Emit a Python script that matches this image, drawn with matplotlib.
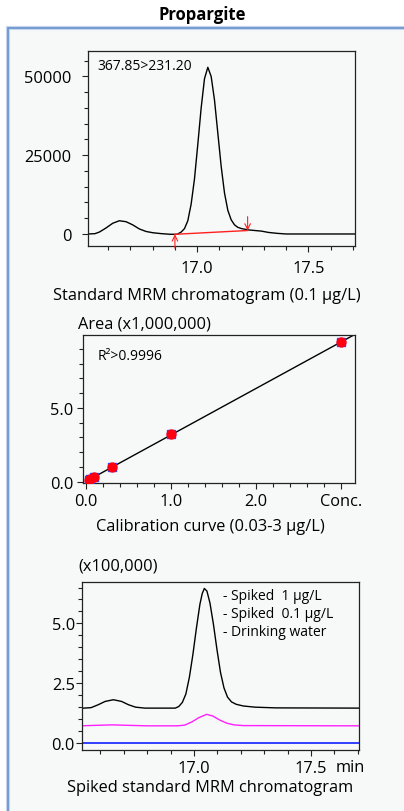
"""
plot.py — Propargite panel: standard MRM chromatogram, calibration curve and
spiked drinking-water chromatograms. Saves out.png (404x812).
"""
import matplotlib
matplotlib.use("Agg")
import matplotlib.pyplot as plt
import numpy as np
from matplotlib.patches import Rectangle
from matplotlib.ticker import MultipleLocator

plt.rcParams["font.family"] = ["Open Sans", "DejaVu Sans"]

# --- panel 1: standard MRM chromatogram (0.1 ug/L), transition 367.85>231.20
std_time = [16.51, 16.54, 16.56, 16.59, 16.62, 16.65, 16.68, 16.71, 16.74, 16.77,
            16.80, 16.84, 16.88, 16.91, 16.928, 16.943, 16.958, 16.973, 16.988,
            17.003, 17.018, 17.033, 17.048, 17.063, 17.078, 17.093, 17.108,
            17.123, 17.138, 17.153, 17.168, 17.183, 17.20, 17.23, 17.26, 17.29,
            17.32, 17.36, 17.40, 17.71]
std_int = [0, 100, 600, 1900, 3400, 4200, 3900, 2900, 1600, 800,
           400, 100, -100, -100, 600, 1700, 4200, 9500, 17500,
           28500, 40000, 49300, 52900, 50000, 42500, 32000, 21500,
           13000, 7500, 4500, 2900, 2100, 1700, 1300, 1100, 900,
           500, 200, 0, 0]
base_time = [16.90, 17.227]      # integration baseline start / end
base_int = [-100, 1100]

# --- panel 2: calibration curve
cal_conc = [0.03, 0.05, 0.1, 0.3, 1.0, 3.0]
cal_area = [0.08, 0.16, 0.33, 0.98, 3.23, 9.47]   # x1,000,000

# --- panel 3: spiked chromatograms (x100,000)
sp_time_1 = [16.513, 16.56, 16.59, 16.62, 16.655, 16.69, 16.72, 16.75, 16.79,
             16.92, 16.935, 16.95, 16.965, 16.98, 16.995, 17.01, 17.025, 17.035,
             17.044, 17.055, 17.068, 17.083, 17.098, 17.113, 17.128, 17.143,
             17.16, 17.18, 17.21, 17.26, 17.35, 17.705]
sp_int_1 = [1.45, 1.48, 1.60, 1.74, 1.81, 1.74, 1.60, 1.50, 1.46,
            1.46, 1.53, 1.70, 2.05, 2.75, 3.70, 4.80, 5.80, 6.25,
            6.46, 6.35, 5.85, 4.95, 3.90, 2.95, 2.30, 1.92,
            1.72, 1.62, 1.55, 1.50, 1.47, 1.46]
sp_time_01 = [16.513, 16.58, 16.65, 16.72, 16.80, 16.93, 16.96, 16.99, 17.02,
              17.054, 17.08, 17.11, 17.14, 17.17, 17.21, 17.705]
sp_int_01 = [0.72, 0.74, 0.76, 0.74, 0.72, 0.72, 0.75, 0.88, 1.06,
             1.20, 1.13, 0.96, 0.83, 0.76, 0.73, 0.72]
water_time = [16.513, 17.705]
water_int = [0.0, 0.0]
legend_labels = ["- Spiked  1 µg/L", "- Spiked  0.1 µg/L", "- Drinking water"]

BG = "#f7f9f9"
SPINE = "#222222"
FS = 11.8


def style(ax, xpad=3, ypad=3):
    ax.set_facecolor(BG)
    for s in ax.spines.values():
        s.set_color(SPINE)
        s.set_linewidth(0.9)
    ax.tick_params(which="major", direction="out", length=4.3, width=0.8,
                   color=SPINE, labelsize=FS)
    ax.tick_params(which="minor", direction="out", length=2.8, width=0.8, color=SPINE)
    ax.tick_params(axis="x", which="major", pad=xpad)
    ax.tick_params(axis="y", which="major", pad=ypad)
    ax.tick_params(top=False, right=False)


fig = plt.figure(figsize=(4.04, 8.12), dpi=100)
fig.patch.set_facecolor("white")

# framed panel with light background (behind the axes)
fig.patches.append(Rectangle((8 / 404, -0.01), 1.0, 1.01 - 29 / 812, transform=fig.transFigure,
                             facecolor=BG, edgecolor="#c9d6ea", linewidth=3.0, zorder=-2))
fig.patches.append(Rectangle((8 / 404, -0.01), 1.0, 1.01 - 29 / 812, transform=fig.transFigure,
                             facecolor="none", edgecolor="#5d8ccc", linewidth=1.1, zorder=-1))

fig.text(202 / 404, 1 - 15 / 812, "Propargite", ha="center", va="center",
         fontsize=12, fontweight="bold")

# panel 1
ax1 = fig.add_axes([88 / 404, 1 - 247 / 812, 267 / 404, 195 / 812])
style(ax1, xpad=6, ypad=7.5)
ax1.plot(std_time, std_int, color="black", lw=1.0)
ax1.plot(base_time, base_int, color="#ff2020", lw=1.0)
ax1.annotate("", xy=(base_time[0], base_int[0]), xytext=(0, -10), textcoords="offset points",
             arrowprops=dict(arrowstyle="->", color="#ff2020", lw=0.8, shrinkA=0, shrinkB=0))
ax1.annotate("", xy=(base_time[1], base_int[1]), xytext=(0, 10), textcoords="offset points",
             arrowprops=dict(arrowstyle="->", color="#ff2020", lw=0.8, shrinkA=0, shrinkB=0))
ax1.set_xlim(16.509, 17.71)
ax1.set_ylim(-3815, 58080)
ax1.set_xticks([17.0, 17.5])
ax1.set_xticklabels(["17.0", "17.5"])
ax1.xaxis.set_minor_locator(MultipleLocator(0.1))
ax1.set_yticks([0, 25000, 50000])
ax1.yaxis.set_minor_locator(MultipleLocator(5000))
ax1.text(0.035, 0.925, "367.85>231.20", transform=ax1.transAxes, fontsize=10,
         ha="left", va="center")
fig.text(207 / 404, 1 - 296 / 812, "Standard MRM chromatogram (0.1 µg/L)",
         ha="center", va="center", fontsize=FS)

# panel 2
ax2 = fig.add_axes([83 / 404, 1 - 484 / 812, 272 / 404, 148 / 812])
style(ax2, xpad=3, ypad=2.5)
slope, icpt = np.polyfit(cal_conc, cal_area, 1)
fit_x = np.array([0.0, 3.2])
ax2.plot(fit_x, slope * fit_x + icpt, color="black", lw=1.0, zorder=2)
ax2.plot(cal_conc, cal_area, "s", color="#3040ff", markersize=6.2, zorder=3, ls="none")
ax2.plot(cal_conc, cal_area, "o", color="#ff0010", markersize=6.4, zorder=4, ls="none")
ax2.set_xlim(-0.035, 3.16)
ax2.set_ylim(-0.09, 9.95)
ax2.set_xticks([0.0, 1.0, 2.0, 3.0])
ax2.set_xticklabels(["0.0", "1.0", "2.0", "Conc."])
ax2.xaxis.set_minor_locator(MultipleLocator(0.2))
ax2.set_yticks([0.0, 5.0])
ax2.set_yticklabels(["0.0", "5.0"])
ax2.yaxis.set_minor_locator(MultipleLocator(1.0))
ax2.text(0.055, 0.86, "R²>0.9996", transform=ax2.transAxes, fontsize=10,
         ha="left", va="center")
fig.text(78 / 404, 1 - 325 / 812, "Area (x1,000,000)", ha="left", va="center", fontsize=FS)
fig.text(210 / 404, 1 - 527 / 812, "Calibration curve (0.03-3 µg/L)",
         ha="center", va="center", fontsize=FS)

# panel 3
ax3 = fig.add_axes([82 / 404, 1 - 751 / 812, 277 / 404, 168 / 812])
style(ax3, xpad=3, ypad=0.8)
ax3.plot(water_time, water_int, color="#1020ff", lw=1.2)
ax3.plot(sp_time_01, sp_int_01, color="#ff20ff", lw=1.0)
ax3.plot(sp_time_1, sp_int_1, color="black", lw=1.0)
ax3.set_xlim(16.521, 17.705)
ax3.set_ylim(-0.29, 6.73)
ax3.set_xticks([17.0, 17.5])
ax3.set_xticklabels(["17.0", "17.5"])
ax3.xaxis.set_minor_locator(MultipleLocator(0.1))
ax3.set_yticks([0.0, 2.5, 5.0])
ax3.set_yticklabels(["0.0", "2.5", "5.0"])
ax3.yaxis.set_minor_locator(MultipleLocator(0.5))
for i, lab in enumerate(legend_labels):
    ax3.text(0.51, 0.92 - i * 0.107, lab, transform=ax3.transAxes, fontsize=10,
             ha="left", va="center")
fig.text(78 / 404, 1 - 567 / 812, "(x100,000)", ha="left", va="center", fontsize=FS)
fig.text(350 / 404, 1 - 768 / 812, "min", ha="center", va="center", fontsize=FS)
fig.text(210 / 404, 1 - 788 / 812, "Spiked standard MRM chromatogram",
         ha="center", va="center", fontsize=FS)

fig.savefig("out.png", dpi=100, facecolor=fig.get_facecolor())
